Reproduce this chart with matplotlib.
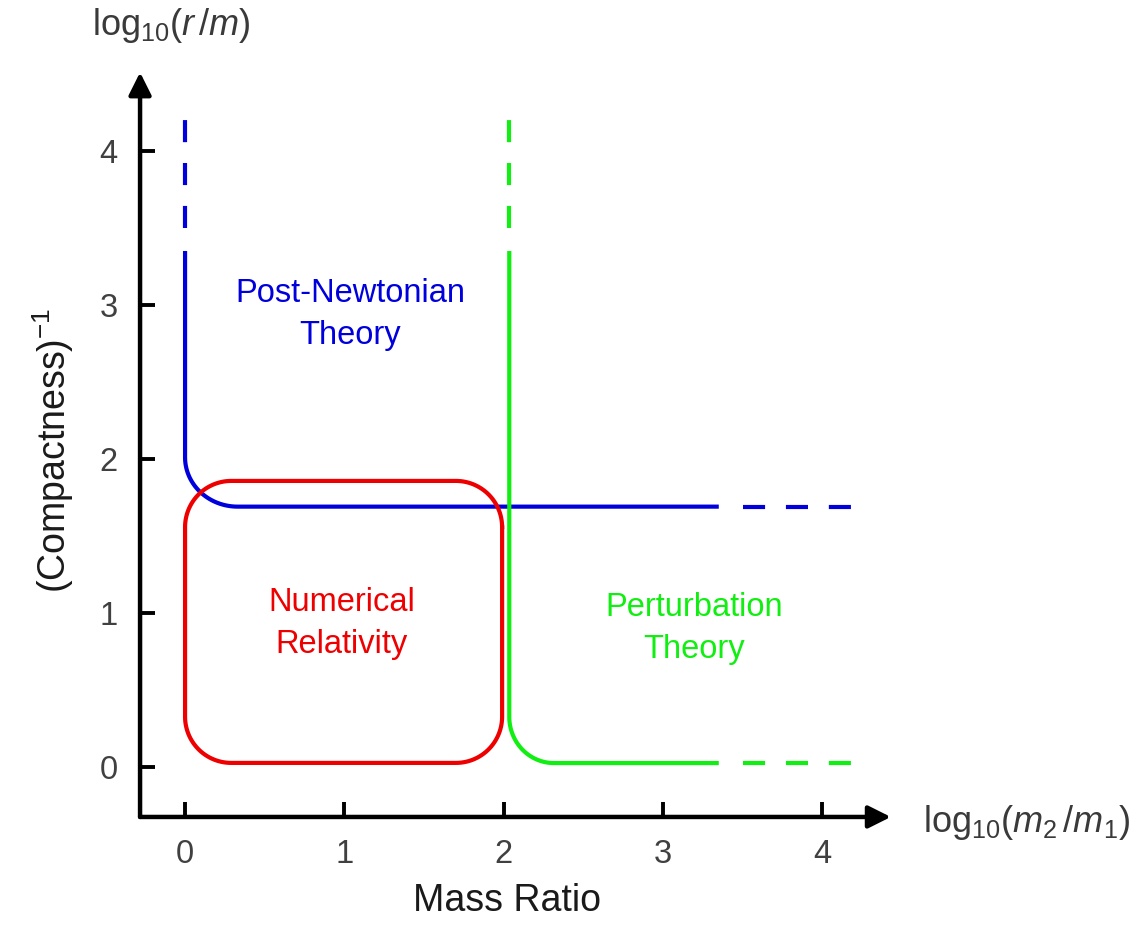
import numpy as np
import matplotlib
matplotlib.use("Agg")
import matplotlib.pyplot as plt

plt.rcParams['font.family'] = ['Liberation Sans', 'DejaVu Sans']
plt.rcParams['mathtext.fontset'] = 'custom'
plt.rcParams['mathtext.rm'] = 'Liberation Sans'
plt.rcParams['mathtext.it'] = 'Liberation Sans:italic'

# region boundaries (log10 mass ratio, log10 r/m)
pn_x = 0.0          # post-Newtonian vertical edge
pn_y = 1.69         # post-Newtonian horizontal edge
pn_r = (0.33, 0.32)
pt_x = 2.035        # perturbation theory vertical edge
pt_y = 0.025        # perturbation theory horizontal edge
pt_r = (0.28, 0.30)
solid_end = 3.35
dash_start = 3.5
dash_end = 4.2

nr_box = (0.0, 1.99, 0.026, 1.857)   # x0, x1, y0, y1
nr_r = (0.29, 0.30)

ticks = [0, 1, 2, 3, 4]

BLUE = '#0000dd'
GREEN = '#11ee11'
RED = '#ee0000'


def corner_curve(xv, yh, rx, ry, top, right, n=40):
    # vertical line at xv from top down, rounded corner, horizontal at yh to right
    t = np.linspace(np.pi, 1.5 * np.pi, n)
    cx, cy = xv + rx, yh + ry
    xs = np.concatenate([[xv], cx + rx * np.cos(t), [right]])
    ys = np.concatenate([[top], cy + ry * np.sin(t), [yh]])
    return xs, ys


def rounded_box(x0, x1, y0, y1, rx, ry, n=30):
    xs, ys = [], []
    corners = [(x1 - rx, y1 - ry, 0), (x0 + rx, y1 - ry, 0.5 * np.pi),
               (x0 + rx, y0 + ry, np.pi), (x1 - rx, y0 + ry, 1.5 * np.pi)]
    for cx, cy, a in corners:
        t = np.linspace(a, a + 0.5 * np.pi, n)
        xs.extend(cx + rx * np.cos(t))
        ys.extend(cy + ry * np.sin(t))
    xs.append(xs[0])
    ys.append(ys[0])
    return xs, ys


fig = plt.figure(figsize=(11.48, 9.25), dpi=100)
ax = fig.add_axes([0.122, 0.1168, 0.654, 0.805])
ax.set_xlim(-0.2825, 4.43)
ax.set_ylim(-0.325, 4.51)

lw = 3.0
dash = (0, (5.3, 5.0))

# post-Newtonian boundary
xs, ys = corner_curve(pn_x, pn_y, pn_r[0], pn_r[1], solid_end, solid_end)
ax.plot(xs, ys, color=BLUE, lw=lw, solid_capstyle='butt')
ax.plot([pn_x, pn_x], [dash_start, dash_end], color=BLUE, lw=lw, ls=dash)
ax.plot([dash_start, dash_end], [pn_y, pn_y], color=BLUE, lw=lw, ls=dash)

# perturbation theory boundary
xs, ys = corner_curve(pt_x, pt_y, pt_r[0], pt_r[1], solid_end, solid_end)
ax.plot(xs, ys, color=GREEN, lw=lw, solid_capstyle='butt')
ax.plot([pt_x, pt_x], [dash_start, dash_end], color=GREEN, lw=lw, ls=dash)
ax.plot([dash_start, dash_end], [pt_y, pt_y], color=GREEN, lw=lw, ls=dash)

# numerical relativity box
xs, ys = rounded_box(*nr_box, *nr_r)
ax.plot(xs, ys, color=RED, lw=lw)

ax.text(1.036, 2.94, 'Post-Newtonian\nTheory', color=BLUE, fontsize=23.5,
        ha='center', va='center', linespacing=1.45)
ax.text(0.985, 0.93, 'Numerical\nRelativity', color=RED, fontsize=23.5,
        ha='center', va='center', linespacing=1.45)
ax.text(3.195, 0.90, 'Perturbation\nTheory', color=GREEN, fontsize=23.5,
        ha='center', va='center', linespacing=1.45)

# axes with arrows
for s in ax.spines.values():
    s.set_visible(False)
for tip in [(1, 0), (0, 1)]:
    ax.annotate('', xy=tip, xytext=(0, 0), xycoords='axes fraction',
                arrowprops=dict(arrowstyle='-|>', lw=3.2, color='k',
                                mutation_scale=34, shrinkA=0, shrinkB=0))

ax.set_xticks(ticks)
ax.set_yticks(ticks)
ax.tick_params(direction='in', length=11, width=2.8, labelsize=23.5,
               labelcolor='#404040', color='k', pad=16)

ax.set_xlabel('Mass Ratio', fontsize=27, color='#1a1a1a')
ax.xaxis.set_label_coords(0.489, -0.0887)
ax.set_ylabel(r'(Compactness)$^{-1}$', fontsize=27, color='#1a1a1a')
ax.yaxis.set_label_coords(-0.085, 0.493)
fig.text(0.149, 0.962, r'log$_{10}$($r\,/m$)', fontsize=26, color='#3a3a3a',
         ha='center', va='baseline')
fig.text(0.804, 0.1005, r'log$_{10}$($m_2\,/m_1$)', fontsize=26, color='#3a3a3a',
         ha='left', va='baseline')

fig.savefig('out.png', dpi=100)
